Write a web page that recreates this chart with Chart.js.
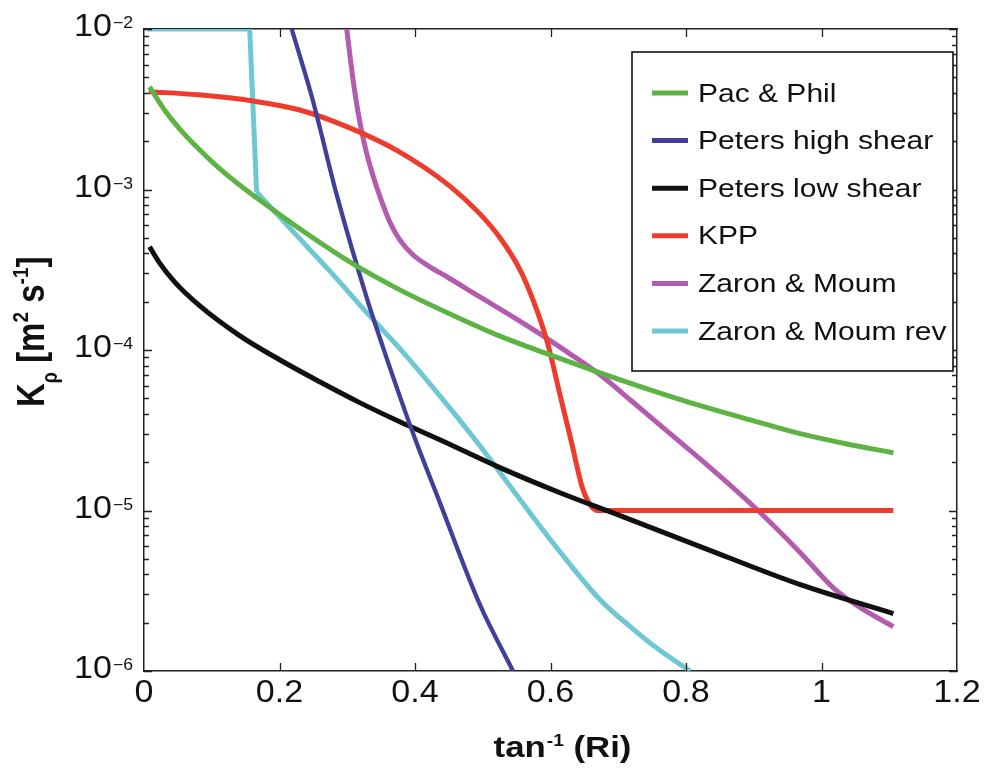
<!DOCTYPE html>
<html><head><meta charset="utf-8">
<script src="https://cdn.jsdelivr.net/npm/chart.js@4.4.1/dist/chart.umd.min.js"></script>
<style>html,body{margin:0;padding:0;background:#fff;}canvas{display:block;}</style>
</head><body>
<canvas id="c" width="986" height="770"></canvas>
<script>
// ---- tick labels ----
const xTickValues = [0, 0.2, 0.4, 0.6, 0.8, 1.0, 1.2];
const xTickLabels = ['0', '0.2', '0.4', '0.6', '0.8', '1', '1.2'];
const yTickValues = [1e-6, 1e-5, 1e-4, 1e-3, 1e-2];
const yTickExponents = ['\u22126', '\u22125', '\u22124', '\u22123', '\u22122'];

// ---- series (x = tan^-1(Ri), K = K_rho in m^2 s^-1) ----
const seriesNames = ['Pac & Phil', 'Peters high shear', 'Peters low shear', 'KPP', 'Zaron & Moum', 'Zaron & Moum rev'];
const seriesColors = ['#5DB444', '#40409A', '#111111', '#EE3B2B', '#B35BAE', '#6DC8D4'];

const pacX = [0.0082, 0.0303, 0.0525, 0.082, 0.1189, 0.1662, 0.2298, 0.3037, 0.3776, 0.4514, 0.5254, 0.5993, 0.6732, 0.7471, 0.821, 0.8949, 0.9687, 1.0426, 1.1061];
const pacK = [4.36e-3, 3.13e-3, 2.39e-3, 1.77e-3, 1.27e-3, 8.87e-4, 5.69e-4, 3.54e-4, 2.37e-4, 1.68e-4, 1.22e-4, 9.33e-5, 7.21e-5, 5.65e-5, 4.50e-5, 3.67e-5, 3.01e-5, 2.57e-5, 2.29e-5];

const highX = [0.218, 0.249, 0.2845, 0.3288, 0.3524, 0.3968, 0.4367, 0.4958, 0.5446];
const highK = [1.0e-2, 3.61e-3, 9.25e-4, 2.11e-4, 1.05e-4, 3.05e-5, 1.12e-5, 2.59e-6, 1.0e-6];

const lowX = [0.0082, 0.0229, 0.0451, 0.082, 0.1411, 0.2002, 0.2593, 0.3184, 0.3776, 0.4367, 0.5254, 0.614, 0.7027, 0.821, 0.9687, 1.1061];
const lowK = [4.40e-4, 3.49e-4, 2.66e-4, 1.89e-4, 1.23e-4, 8.69e-5, 6.34e-5, 4.70e-5, 3.57e-5, 2.76e-5, 1.85e-5, 1.29e-5, 9.29e-6, 5.96e-6, 3.45e-6, 2.28e-6];

const kppX = [0.007, 0.08, 0.161, 0.2298, 0.3037, 0.3776, 0.4514, 0.4958, 0.5254, 0.555, 0.577, 0.5963, 0.614, 0.6318, 0.6465, 0.6583, 0.6701, 0.80, 0.95, 1.1061];
const kppK = [4.07e-3, 3.89e-3, 3.56e-3, 3.13e-3, 2.42e-3, 1.71e-3, 1.05e-3, 7.05e-4, 5.0e-4, 3.16e-4, 1.91e-4, 1.08e-4, 5.26e-5, 2.57e-5, 1.41e-5, 1.09e-5, 1.0e-5, 1.0e-5, 1.0e-5, 1.0e-5];

const zmX = [0.2992, 0.3052, 0.3111, 0.3185, 0.3273, 0.3377, 0.3495, 0.3628, 0.3776, 0.3968, 0.4219, 0.447, 0.4958, 0.5446, 0.5845, 0.6288, 0.6732, 0.7175, 0.7766, 0.8357, 0.9051, 0.9687, 1.0174, 1.0573, 1.1061];
const zmK = [1.0e-2, 6.23e-3, 4.06e-3, 2.64e-3, 1.77e-3, 1.23e-3, 8.73e-4, 6.28e-4, 4.85e-4, 3.92e-4, 3.30e-4, 2.86e-4, 2.14e-4, 1.61e-4, 1.26e-4, 9.46e-5, 7.0e-5, 4.90e-5, 3.01e-5, 1.85e-5, 1.01e-5, 5.46e-6, 3.30e-6, 2.48e-6, 1.89e-6];

// Zaron & Moum rev: capped part (flat at 1e-2, then sharp drop) and the smooth tail
const zmrCapX = [0.005, 0.156, 0.1662];
const zmrCapK = [1.0e-2, 1.0e-2, 9.66e-4];
const zmrX = [0.1662, 0.215, 0.2741, 0.3332, 0.3776, 0.4367, 0.4958, 0.555, 0.614, 0.6732, 0.7175, 0.7618, 0.8061];
const zmrK = [9.66e-4, 5.77e-4, 3.11e-4, 1.63e-4, 1.02e-4, 5.18e-5, 2.53e-5, 1.17e-5, 5.53e-6, 2.78e-6, 1.89e-6, 1.34e-6, 1.0e-6];

function pts(xs, ks) { return xs.map((x, i) => ({ x: x, y: ks[i] })); }

const FONT = '"Liberation Sans", Arial, Helvetica, sans-serif';
function txt(ctx, s, x, y, font, align, sx) {
  ctx.save(); ctx.translate(x, y); ctx.scale(sx, 1);
  ctx.font = font; ctx.textAlign = align; ctx.textBaseline = 'alphabetic';
  ctx.fillStyle = '#111'; ctx.fillText(s, 0, 0); ctx.restore();
}
function tw(ctx, s, font, sx) {
  ctx.save(); ctx.font = font; const m = ctx.measureText(s).width * sx; ctx.restore(); return m;
}

const decorPlugin = {
  id: 'decor',
  afterDraw(chart) {
    const ctx = chart.ctx, xs = chart.scales.x, ys = chart.scales.y, a = chart.chartArea;
    ctx.save();
    // inside tick marks
    ctx.strokeStyle = '#222'; ctx.lineWidth = 1.3;
    ctx.beginPath();
    xTickValues.forEach(v => {
      const p = Math.round(xs.getPixelForValue(v)) + 0.5;
      if (p > a.left + 2 && p < a.right - 2) {
        ctx.moveTo(p, a.bottom); ctx.lineTo(p, a.bottom - 8);
        ctx.moveTo(p, a.top); ctx.lineTo(p, a.top + 8);
      }
    });
    yTickValues.forEach((v, i) => {
      const p = Math.round(ys.getPixelForValue(v)) + 0.5;
      ctx.moveTo(a.left, p); ctx.lineTo(a.left + 8, p);
      ctx.moveTo(a.right, p); ctx.lineTo(a.right - 8, p);
      if (i < yTickValues.length - 1) {
        for (let m = 2; m <= 9; m++) {
          const q = Math.round(ys.getPixelForValue(v * m)) + 0.5;
          ctx.moveTo(a.left, q); ctx.lineTo(a.left + 5, q);
          ctx.moveTo(a.right, q); ctx.lineTo(a.right - 5, q);
        }
      }
    });
    ctx.stroke();

    // x tick labels
    const tickFont = '31px ' + FONT;
    xTickValues.forEach((v, i) => {
      txt(ctx, xTickLabels[i], xs.getPixelForValue(v), a.bottom + 31, tickFont, 'center', 1.1);
    });
    // y tick labels 10^n
    const supFont = '16px ' + FONT;
    const right = a.left - 11;
    yTickValues.forEach((v, i) => {
      const p = ys.getPixelForValue(v);
      const ws = tw(ctx, yTickExponents[i], supFont, 1.1);
      txt(ctx, yTickExponents[i], right - ws, p - 1, supFont, 'left', 1.1);
      txt(ctx, '10', right - ws - 1, p + 7, tickFont, 'right', 1.1);
    });

    // x axis title: tan^-1 (Ri)
    const tf = 'bold 29px ' + FONT, tfs = 'bold 16px ' + FONT, sx = 1.2;
    const p1 = 'tan', p2 = '-1', p3 = ' (Ri)';
    const w1 = tw(ctx, p1, tf, sx), w2 = tw(ctx, p2, tfs, sx), w3 = tw(ctx, p3, tf, sx);
    const x0 = 562 - (w1 + w2 + w3) / 2;
    txt(ctx, p1, x0, 757, tf, 'left', sx);
    txt(ctx, p2, x0 + w1 + 1, 746, tfs, 'left', sx);
    txt(ctx, p3, x0 + w1 + w2 + 1, 757, tf, 'left', sx);

    // y axis title: K_rho [m^2 s^-1] (rotated)
    ctx.save();
    ctx.translate(44, 407); ctx.scale(1.2, 1); ctx.rotate(-Math.PI / 2);
    ctx.fillStyle = '#111'; ctx.textAlign = 'left'; ctx.textBaseline = 'alphabetic';
    const yf = 'bold 33px ' + FONT, ysb = 'bold 18px ' + FONT, ysp = 'bold 19px ' + FONT;
    const parts = [['K', yf, 0], ['\u03c1', ysb, 11], [' [m', yf, 0], ['2', ysp, -13], [' s', yf, 0], ['-1', ysp, -13], [']', yf, 0]];
    let lx = 0;
    parts.forEach(([s, f, dy]) => { ctx.font = f; ctx.fillText(s, lx, dy); lx += ctx.measureText(s).width; });
    ctx.restore();

    // legend box
    const L = 632, T = 52, R = 953, B = 371;
    ctx.fillStyle = '#fff'; ctx.fillRect(L, T, R - L, B - T);
    ctx.strokeStyle = '#111'; ctx.lineWidth = 1.6; ctx.strokeRect(L, T, R - L, B - T);
    const lf = '25px ' + FONT;
    seriesNames.forEach((name, i) => {
      const yy = 93 + i * 47.6;
      ctx.strokeStyle = seriesColors[i]; ctx.lineWidth = 5;
      ctx.beginPath(); ctx.moveTo(652, yy); ctx.lineTo(688, yy); ctx.stroke();
      txt(ctx, name, 698, yy + 8.5, lf, 'left', 1.2);
    });
    ctx.restore();
  }
};

const xsList = [pacX, highX, lowX, kppX, zmX, zmrX];
const ksList = [pacK, highK, lowK, kppK, zmK, zmrK];
const datasets = seriesNames.map((name, i) => ({
  label: name,
  data: pts(xsList[i], ksList[i]),
  borderColor: seriesColors[i],
  backgroundColor: seriesColors[i],
  borderWidth: i === 1 ? 4.3 : 5,
  pointRadius: 0,
  fill: false,
  cubicInterpolationMode: 'monotone'
}));
datasets.push({
  label: seriesNames[5],
  data: pts(zmrCapX, zmrCapK),
  borderColor: seriesColors[5],
  backgroundColor: seriesColors[5],
  borderWidth: 5,
  pointRadius: 0,
  fill: false,
  tension: 0,
  borderJoinStyle: 'miter'
});

const axisBase = {
  grid: { display: false, drawTicks: false },
  border: { display: true, color: '#222', width: 1.5 },
  ticks: { display: false }
};

new Chart(document.getElementById('c'), {
  type: 'line',
  data: { datasets: datasets },
  options: {
    responsive: false,
    animation: false,
    devicePixelRatio: 1,
    layout: { padding: { left: 144, right: 29, top: 29, bottom: 99 } },
    plugins: { legend: { display: false }, tooltip: { enabled: false } },
    scales: {
      x: Object.assign({ type: 'linear', position: 'bottom', min: 0, max: 1.2 }, axisBase),
      y: Object.assign({ type: 'logarithmic', position: 'left', min: 1e-6, max: 1e-2 }, axisBase),
      x2: Object.assign({ type: 'linear', position: 'top', min: 0, max: 1.2 }, axisBase),
      y2: Object.assign({ type: 'logarithmic', position: 'right', min: 1e-6, max: 1e-2 }, axisBase)
    }
  },
  plugins: [decorPlugin]
});
</script>
</body></html>
